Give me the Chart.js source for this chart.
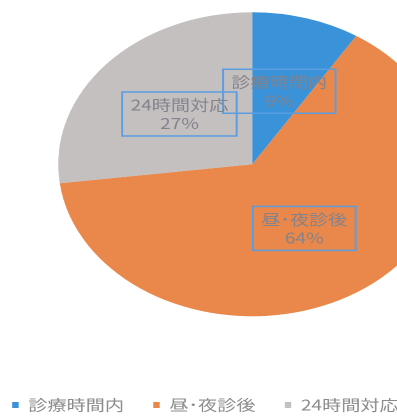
<!DOCTYPE html>
<html lang="ja">
<head>
<meta charset="UTF-8">
<title>診療時間</title>
<script src="https://cdn.jsdelivr.net/npm/chart.js@4"></script>
<style>
  html, body { margin: 0; padding: 0; background: #fff; overflow: hidden; }
  /* el lienzo es más grande que la ventana: se desplaza y se estira en horizontal
     (el círculo queda como elipse y el lado derecho se corta) */
  #grafico {
    display: block;
    transform: translate(-25.53px, -50px) scaleX(1.2766);
    transform-origin: 0 0;
  }
</style>
</head>
<body>
<canvas id="grafico" width="430" height="480"></canvas>
<script>
// Datos del gráfico
const categorias = ["診療時間内", "昼･夜診後", "24時間対応"];
const porcentajes = [9, 64, 27];
const colores = ["#3a92d8", "#e9884a", "#c4c0c0"];

const FUENTE = '"Noto Sans CJK JP", "Noto Sans", sans-serif';

// Etiquetas con recuadro azul en el centro de cada sector
const etiquetasPlugin = {
  id: "etiquetas",
  afterDatasetsDraw(chart) {
    const ctx = chart.ctx;
    const meta = chart.getDatasetMeta(0);
    ctx.save();
    ctx.font = `15px ${FUENTE}`;
    ctx.textAlign = "center";
    ctx.textBaseline = "middle";
    meta.data.forEach((arc, i) => {
      const { x, y } = arc.getCenterPoint();
      const linea1 = categorias[i];
      const linea2 = `${porcentajes[i]}%`;
      const ancho =
        Math.max(ctx.measureText(linea1).width, ctx.measureText(linea2).width) + 13;
      const alto = 44;
      ctx.strokeStyle = "#5b9de0";
      ctx.lineWidth = 1.5;
      ctx.strokeRect(x - ancho / 2, y - alto / 2, ancho, alto);
      ctx.fillStyle = "#83838c";
      ctx.fillText(linea1, x, y - 9.3);
      ctx.fillText(linea2, x, y + 9.3);
    });
    ctx.restore();
  },
};

new Chart(document.getElementById("grafico"), {
  type: "pie",
  data: {
    labels: categorias,
    datasets: [
      {
        data: porcentajes,
        backgroundColor: colores,
        borderWidth: 0,
        radius: 152,
      },
    ],
  },
  options: {
    responsive: false,
    devicePixelRatio: 2,
    animation: false,
    layout: {
      padding: { top: 4, right: 1.4, bottom: 7.5, left: 6.6 },
    },
    plugins: {
      tooltip: { enabled: false },
      legend: {
        position: "bottom",
        align: "start",
        labels: {
          boxWidth: 5,
          boxHeight: 6,
          padding: 23,
          color: "#8a8a8a",
          font: { family: FUENTE, size: 15 },
        },
      },
    },
  },
  plugins: [etiquetasPlugin],
});
</script>
</body>
</html>
